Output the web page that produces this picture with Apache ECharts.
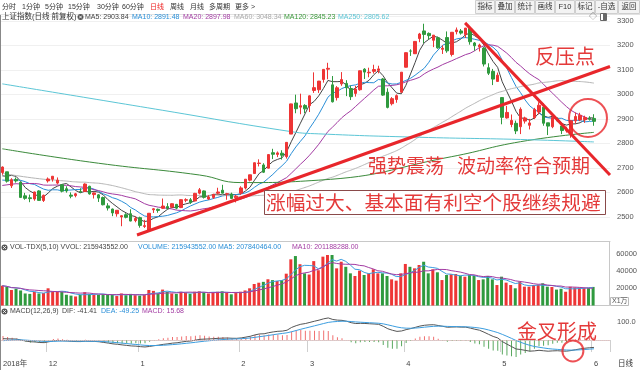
<!DOCTYPE html>
<html><head><meta charset="utf-8">
<script src="https://cdn.jsdelivr.net/npm/echarts@6/dist/echarts.min.js"></script>
<style>html,body{margin:0;padding:0;background:#fff}#c{width:640px;height:370px}</style>
</head><body><div id="c"></div>
<script>
// ---------- data ----------
const monthKeys = ['2018-11','2018-12','2019-01','2019-02','2019-03','2019-04','2019-05','2019-06'];
const monthTickLabels = ['2018年','12','1','2','3','4','5','6'];
const monthDays = [
  [19,20,21,22,23,26,27,28,29,30],
  [3,4,5,6,7,10,11,12,13,14,17,18,19,20,21,24,25,26,27,28],
  [2,3,4,7,8,9,10,11,14,15,16,17,18,21,22,23,24,25,28,29,30,31],
  [1,11,12,13,14,15,18,19,20,21,22,25,26,27,28],
  [1,4,5,6,7,8,11,12,13,14,15,18,19,20,21,22,25,26,27,28,29],
  [1,2,3,4,8,9,10,11,12,15,16,17,18,19,22,23,24,25,26,29,30],
  [6,7,8,9,10,13,14,15,16,17,20,21,22,23,24,27,28,29,30,31],
  [3]
];
const warmupCloses = [2720.73,2750.58,2704.34,2691.59,2702.30,2669.48,2664.80,2656.11,2686.58,2681.64,2651.79,2699.95,2730.85,2729.24,2797.48,2781.14,2806.81,2791.77,2821.35,
  2716.51,2721.01,2725.84,2583.46,2606.91,2568.10,2546.33,2561.61,2486.42,2550.47,2654.88,2594.83,2603.30,2603.80,2598.85,2542.10,2568.05,2602.78,
  2606.24,2676.48,2665.43,2659.36,2641.34,2635.63,2598.87,2630.52,2654.88,2632.24,2668.17,2679.11];
const opens = [2681,2684,2627,2653,2641,2586,2578,2573,2606,2567,
  2647,2654,2638,2631,2615,2589,2587,2604,2604,2625,2591,2590,2579,2545,2532,2513,2500,2509,2513,2485,
  2497,2461,2446,2529,2531,2535,2542,2540,2551,2538,2568,2570,2565,2597,2606,2573,2579,2597,2609,2593,2593,2578,
  2597,2618,2650,2677,2718,2712,2699,2762,2755,2760,2746,2838,2965,2948,2955,
  2954,3016,3019,3061,3103,3039,2987,3043,3045,3024,3004,3019,3103,3088,3094,3098,3063,3009,2962,2979,3009,
  3111,3177,3166,3228,3259,3249,3221,3231,3184,3232,3163,3256,3259,3244,3269,3210,3194,3189,3109,3094,3053,
  2987,2904,2877,2882,2868,2891,2874,2905,2928,2948,2884,2868,2899,2871,2851,2840,2892,2896,2897,2903,
  2902];
const closes = [2703.51,2645.85,2651.51,2646.80,2579.48,2575.81,2574.68,2601.74,2567.44,2588.19,
  2654.80,2665.96,2649.81,2605.18,2605.89,2584.58,2594.09,2602.15,2634.05,2593.74,2597.97,2576.65,2549.56,2536.27,2516.25,2527.01,2504.82,2498.29,2483.09,2493.90,
  2465.29,2464.36,2514.87,2533.09,2526.46,2544.34,2535.10,2553.83,2535.77,2570.35,2570.42,2559.64,2596.01,2610.51,2579.70,2581.00,2591.69,2601.72,2596.98,2594.25,2575.58,2584.57,
  2618.23,2653.90,2671.89,2721.07,2719.70,2682.39,2754.36,2755.65,2761.22,2751.80,2804.23,2961.28,2941.52,2953.82,2940.95,
  2994.01,3027.58,3054.25,3102.10,3106.42,2969.86,3026.99,3060.31,3026.95,2990.69,3021.75,3096.42,3090.98,3090.64,3101.46,3104.15,2997.10,2946.96,2982.67,2994.94,3090.76,
  3170.36,3176.82,3216.30,3246.57,3244.81,3239.66,3241.93,3189.96,3188.63,3177.79,3253.60,3263.12,3250.20,3270.80,3215.04,3198.59,3201.61,3123.83,3086.40,3062.50,3078.34,
  2906.46,2926.39,2893.76,2850.95,2939.21,2903.71,2883.61,2938.68,2955.71,2882.30,2870.60,2905.97,2891.70,2852.52,2852.99,2892.38,2909.91,2914.70,2905.81,2898.70,
  2890.08];
const lows = [2672,2640,2618,2640,2577,2570,2560,2566,2566,2561,
  2640,2644,2633,2600,2599,2576,2580,2598,2603,2591,2575,2561,2547,2526,2503,2501,2462,2494,2482,2478,
  2456,2455,2440.91,2516,2517,2532,2530,2536,2531,2536,2560,2553,2564,2592,2575,2569,2573,2591,2596,2570,2575,2559,
  2590,2612,2645,2676,2706,2679,2698,2736,2744,2734,2738,2838,2923,2919,2923,
  2928,3006,3006,3048,3062,2967,2975,3035,2993,2977,2991,3015,3063,3070,3085,3086,2994,2943,2955,2966,3008,
  3110,3157,3165,3213,3209,3223,3193,3186,3165,3170,3155,3245,3244,3230,3203,3178,3175,3114,3079,3038,3051,
  2878,2901,2866,2838,2838,2881,2857,2899,2918,2872,2834,2862,2887,2838,2844,2823,2880,2891,2884,2893,
  2872];
const highs = [2706,2684,2658,2661,2644,2598,2591,2603,2609,2591,
  2661,2667,2661,2634,2625,2600,2598,2617,2637,2627,2600,2593,2583,2556,2534,2528,2507,2515,2531,2502,
  2501,2488,2515,2536,2534,2575,2556,2556,2553,2572,2576,2577,2598,2618,2608,2589,2594,2619,2631,2598,2599,2590,
  2625,2654,2672,2722,2735,2719,2756,2778,2767,2772,2805,2962,2999,3003,2960,
  2996,3090,3055,3103,3129,3075,3034,3091,3058,3036,3035,3097,3107,3109,3121,3117,3067,3025,2989,3000,3091,
  3171,3184,3216,3251,3288.45,3253,3242,3236,3200,3257,3254,3273,3267,3271,3275,3214,3207,3193,3127,3104,3089,
  2989,2953,2918,2893,2947,2909,2900,2945,2968,2963,2884,2908,2906,2872,2868,2893,2926,2925,2913,2911,
  2919];
// volume in 万手
const volumes = [23000,21500,18000,19500,17500,14000,13500,16000,14000,14500,
  20000,16500,16000,16000,12500,11500,10500,12500,15500,13500,12500,12500,13000,12500,12500,11000,14000,12000,13500,12000,
  11500,12500,18000,17000,14000,18500,16000,14000,13500,16000,15000,13500,16000,16500,15500,14000,15000,16000,16500,15000,13000,14500,
  16000,17500,20000,25000,26500,27500,30500,29500,28500,29500,37000,53700,57500,48000,37400,
  36000,51600,41000,56800,58700,58700,43200,50900,45000,37400,34300,40500,35500,37400,42100,37400,37400,34300,30400,28900,37400,
  48300,45000,43200,47100,50900,37400,42100,38600,29600,35500,36300,36600,34700,33500,35500,34300,29600,30400,34300,30400,23800,
  33500,26600,23800,20000,27700,21900,21900,23800,23800,25800,21900,21500,18500,19468,16000,21800,21000,20800,20300,20226,
  21594];
// long moving averages (index, value)
const ma60HeadIdx = [0];
const ma60HeadVal = [2678];
const ma120Idx = [0,21,43,52,69,98,113,129];
const ma120Val = [2778,2719,2671,2640,2650,2746,2807,2845];
const ma250Idx = [0,35,63,69,91,113,129];
const ma250Val = [3043,2935,2848,2839,2825,2816,2806];
// drawn annotations (x in category units from left edge, y in price / MACD units)
const trendUp = [[29.87,2426],[133,3114]];
const trendDown = [[101.4,3292],[133,2671]];
const circlePrice = [[128.2,2904]];
const circleMacd = [[124.9,-61]];

// ---------- derived ----------
const dates = [];
monthKeys.forEach((m,mi)=>monthDays[mi].forEach(d=>dates.push(m+'-'+String(d).padStart(2,'0'))));
const N = dates.length;
const cats = dates.concat(['','','']);
const labelAt = {};
monthKeys.forEach((m,mi)=>{ const idx = dates.findIndex(d=>d.startsWith(m)); labelAt[idx]=monthTickLabels[mi]; });
const isLabel = (i)=> labelAt[i] !== undefined;

const allCloses = warmupCloses.concat(closes);
const W = warmupCloses.length;
function maClose(n){ return closes.map((_,i)=>{ const e=W+i; if(e-n+1<0) return null; let s=0; for(let k=e-n+1;k<=e;k++) s+=allCloses[k]; return +(s/n).toFixed(2); }); }
const ma5 = maClose(5), ma10 = maClose(10), ma20 = maClose(20);
const ma60 = maClose(60);
ma60HeadIdx.forEach((ix,k)=>{ ma60[ix]=ma60HeadVal[k]; });
function sparse(idx,val){ const a=new Array(N).fill(null); idx.forEach((ix,k)=>a[ix]=val[k]); return a; }
const ma120 = sparse(ma120Idx, ma120Val);
const ma250 = sparse(ma250Idx, ma250Val);
function maVol(n){ return volumes.map((_,i)=>{ const s0=Math.max(0,i-n+1); let s=0; for(let k=s0;k<=i;k++) s+=volumes[k]; return s/(i-s0+1); }); }
const vma5 = maVol(5), vma10 = maVol(10);
function ema(arr,n){ const k=2/(n+1); let e=arr[0]; return arr.map((v,i)=>{ e = i===0? v : e+k*(v-e); return e; }); }
const e12 = ema(allCloses,12), e26 = ema(allCloses,26);
const difAll = e12.map((v,i)=>v-e26[i]);
const deaAll = ema(difAll,9);
const dif = difAll.slice(W), dea = deaAll.slice(W);
const macd = dif.map((v,i)=>2*(v-dea[i]));

const RED='#ee3535', GREEN='#2f9a3e';
const candle = closes.map((c,i)=>[opens[i],c,lows[i],highs[i]]);
const up = closes.map((c,i)=>c>=opens[i]);
const volData = volumes.map((v,i)=>({value:v,itemStyle:{color:up[i]?RED:GREEN}}));
const macdData = macd.map(v=>({value:+v.toFixed(2),itemStyle:{color:v>=0?'#f07070':'#5aa860'}}));
const hiIdx = highs.indexOf(Math.max(...highs));
const loIdx = lows.indexOf(Math.min(...lows));

// ---------- chart ----------
const F = 'Arial, "Liberation Sans", "Noto Sans CJK SC", sans-serif';
const CJK = '"Noto Sans CJK SC", sans-serif';
const chart = echarts.init(document.getElementById('c'), null, {renderer:'canvas'});
const gridBase = {left:0, right:30};
function catAxis(g, extra){ return Object.assign({type:'category', gridIndex:g, data:cats, boundaryGap:true,
  axisLine:{show:true,lineStyle:{color:'#c8c8c8'}}, axisTick:{show:false}, axisLabel:{show:false}, splitLine:{show:false}}, extra||{}); }
function lineS(data,color,x,y,extra){ return Object.assign({type:'line',data,xAxisIndex:x,yAxisIndex:y,symbol:'none',
  lineStyle:{color,width:1},itemStyle:{color},silent:true,z:3}, extra||{}); }

function txt(x,y,text,color,size){ return {type:'text',x,y,silent:true,z:100,
  style:{text,fill:color,font:(size||8)+'px '+F,verticalAlign:'middle',align:'left'}}; }
function icon(cx,cy){ return [
  {type:'circle',shape:{cx,cy,r:3},style:{fill:'#555'},z:100,silent:true},
  {type:'line',shape:{x1:cx-1.4,y1:cy-1.4,x2:cx+1.4,y2:cy+1.4},style:{stroke:'#fff',lineWidth:0.9},z:101,silent:true},
  {type:'line',shape:{x1:cx+1.4,y1:cy-1.4,x2:cx-1.4,y2:cy+1.4},style:{stroke:'#fff',lineWidth:0.9},z:101,silent:true}]; }

const menu = ['分时','1分钟','5分钟','15分钟','30分钟','60分钟','日线','周线','月线','多周期','更多 >'];
const menuX = [2,22,45,68,97,122,150,170,190,209,235];
const btns = ['指标','叠加','统计','画线','F10','标记','-自选','返回'];
const btnX = [475,495,515,535,555,575,595,618,640];

const graphics = [];
menu.forEach((m,i)=>graphics.push(txt(menuX[i],7,m,m==='日线'?'#e22':'#333',7)));
btns.forEach((b,i)=>{
  graphics.push({type:'rect',shape:{x:btnX[i]+0.5,y:0.5,width:btnX[i+1]-btnX[i]-1,height:13},style:{fill:'#f3f3f3',stroke:'#cfcfcf',lineWidth:1},z:99,silent:true});
  graphics.push({type:'text',x:(btnX[i]+btnX[i+1])/2,y:7,z:100,silent:true,style:{text:b,fill:'#333',font:'7.5px '+F,align:'center',verticalAlign:'middle'}});
});
// price header
graphics.push(txt(2,17,'上证指数(日线 前复权)','#333',7.5));
graphics.push(...icon(80.5,17));
graphics.push(txt(85,17,'MA5: 2903.84','#444',7));
graphics.push(txt(132,17,'MA10: 2891.48','#2a8fd8',7));
graphics.push(txt(183,17,'MA20: 2897.98','#a33ca3',7));
graphics.push(txt(234,17,'MA60: 3048.34','#aaaaaa',7));
graphics.push(txt(284,17,'MA120: 2845.23','#3b9a3b',7));
graphics.push(txt(338,17,'MA250: 2805.62','#5cc6d6',7));
graphics.push(txt(589,17,'◇','#666',8));
graphics.push({type:'rect',shape:{x:600.5,y:13.5,width:6,height:7},style:{fill:'#fff',stroke:'#666',lineWidth:1},z:100,silent:true});
graphics.push({type:'rect',shape:{x:603,y:14,width:3.5,height:6},style:{fill:'#666'},z:100,silent:true});
// volume header
graphics.push(...icon(4.5,247.5));
graphics.push(txt(10,247.5,'VOL-TDX(5,10) VVOL: 215943552.00','#444',7));
graphics.push(txt(138,247.5,'VOLUME: 215943552.00','#2a8fd8',7));
graphics.push(txt(218,247.5,'MA5: 207840464.00','#2a8fd8',7));
graphics.push(txt(292,247.5,'MA10: 201188288.00','#a33ca3',7));
// macd header
graphics.push(...icon(4.5,311.5));
graphics.push(txt(10,311.5,'MACD(12,26,9)','#444',7));
graphics.push(txt(62,311.5,'DIF: -41.41','#444',7));
graphics.push(txt(101,311.5,'DEA: -49.25','#2a8fd8',7));
graphics.push(txt(142,311.5,'MACD: 15.68','#a33ca3',7));
// unit box and bottom right
graphics.push({type:'rect',shape:{x:610.5,y:297.5,width:18,height:8},style:{fill:'#fff',stroke:'#bbb',lineWidth:1},z:99,silent:true});
graphics.push(txt(612,301.5,'X1万','#555',7));
graphics.push(txt(618,364,'日线','#333',7.5));
// frame lines
graphics.push({type:'line',shape:{x1:0.5,y1:15,x2:0.5,y2:370},style:{stroke:'#888',lineWidth:1},z:100,silent:true});
graphics.push({type:'line',shape:{x1:0,y1:14.5,x2:640,y2:14.5},style:{stroke:'#e2e2e2',lineWidth:1},z:98,silent:true});
// annotations (texts)
const AR = '#e43a3a';
graphics.push({type:'text',x:535,y:56,z:110,silent:true,style:{text:'反压点',fill:AR,font:'20px '+CJK,verticalAlign:'middle'}});
graphics.push({type:'text',x:368,y:166,z:110,silent:true,style:{text:'强势震荡',fill:AR,font:'19px '+CJK,verticalAlign:'middle'}});
graphics.push({type:'text',x:457,y:166,z:110,silent:true,style:{text:'波动率符合预期',fill:AR,font:'19px '+CJK,verticalAlign:'middle'}});
graphics.push({type:'rect',shape:{x:264.5,y:190.5,width:341,height:24},style:{fill:'#fff',stroke:'#8a4a4a',lineWidth:1},z:105,silent:true});
graphics.push({type:'text',x:266,y:203,z:110,silent:true,style:{text:'涨幅过大、基本面有利空个股继续规避',fill:AR,font:'19.7px '+CJK,verticalAlign:'middle'}});
graphics.push({type:'text',x:517,y:331,z:110,silent:true,style:{text:'金叉形成',fill:AR,font:'20px '+CJK,verticalAlign:'middle'}});

const plain = (v)=>String(Math.round(v));
const option = {
  animation:false,
  backgroundColor:'#fff',
  grid:[
    Object.assign({top:16,height:225.4},gridBase),
    Object.assign({top:241.4,height:64.1},gridBase),
    Object.assign({top:305.5,height:51.5},gridBase)
  ],
  xAxis:[
    catAxis(0), catAxis(1),
    catAxis(2,{
      axisTick:{show:true,interval:(i)=>isLabel(i),length:12,lineStyle:{color:'#cfcfcf'}},
      axisLabel:{show:true,interval:(i)=>isLabel(i),formatter:(v,i)=>labelAt[i]||'',align:'left',margin:3,fontSize:7.5,color:'#444',fontFamily:F}
    }),
    {type:'value',gridIndex:0,min:0,max:133,show:false},
    {type:'value',gridIndex:2,min:0,max:133,show:false}
  ],
  yAxis:[
    {type:'value',gridIndex:0,position:'right',min:2400,max:3320,interval:100,
      axisLine:{show:true,lineStyle:{color:'#c8c8c8'}},axisTick:{show:false},
      axisLabel:{showMinLabel:false,showMaxLabel:false,formatter:plain,fontSize:7.5,color:'#555',margin:7,fontFamily:F},
      splitLine:{show:true,lineStyle:{color:'#f0f0f0',width:1}}},
    {type:'value',gridIndex:1,position:'right',min:0,max:74535,interval:20000,
      axisLine:{show:true,lineStyle:{color:'#c8c8c8'}},axisTick:{show:false},
      axisLabel:{showMinLabel:false,showMaxLabel:false,formatter:plain,fontSize:7.5,color:'#555',margin:7,fontFamily:F},
      splitLine:{show:false}},
    {type:'value',gridIndex:2,position:'right',min:-94.4,max:191.7,
      axisLine:{show:true,lineStyle:{color:'#c8c8c8'}},axisTick:{show:false},
      axisLabel:{customValues:[100],formatter:(v)=>Number(v).toFixed(1),fontSize:7.5,color:'#555',margin:7,fontFamily:F},
      splitLine:{show:false}}
  ],
  series:[
    {type:'candlestick',data:candle,xAxisIndex:0,yAxisIndex:0,barWidth:3,z:4,
      itemStyle:{color:RED,color0:GREEN,borderColor:RED,borderColor0:GREEN,borderWidth:1},
      markPoint:{symbol:'none',silent:true,data:[
        {coord:[hiIdx,highs[hiIdx]],value:highs[hiIdx]+0.01,label:{show:true,position:'right',offset:[2,2],formatter:'\u2310'+(highs[hiIdx]+0.01).toFixed(2),fontSize:7.5,color:'#444',fontFamily:F}},
        {coord:[loIdx,lows[loIdx]],value:lows[loIdx],label:{show:true,position:'right',offset:[3,2],formatter:'\u2323'+lows[loIdx].toFixed(2),fontSize:7.5,color:'#444',fontFamily:F}}
      ]}},
    lineS(ma5,'#444',0,0),
    lineS(ma10,'#2a8fd8',0,0),
    lineS(ma20,'#a33ca3',0,0),
    lineS(ma60,'#b5b5b5',0,0,{connectNulls:true,smooth:true}),
    lineS(ma120,'#3b8a3b',0,0,{connectNulls:true,smooth:true}),
    lineS(ma250,'#5cc6d6',0,0,{connectNulls:true,smooth:true}),
    lineS(trendUp,'#e8262b',3,0,{lineStyle:{color:'#e8262b',width:3},z:20}),
    lineS(trendDown,'#e8262b',3,0,{lineStyle:{color:'#e8262b',width:3},z:20}),
    {type:'scatter',xAxisIndex:3,yAxisIndex:0,data:circlePrice,symbol:'circle',symbolSize:38,silent:true,z:20,
      itemStyle:{color:'rgba(0,0,0,0)',borderColor:'#e8262b',borderWidth:2}},
    {type:'bar',data:volData,xAxisIndex:1,yAxisIndex:1,barWidth:3,z:2},
    lineS(vma5,'#3c9ee0',1,1),
    lineS(vma10,'#a33ca3',1,1),
    {type:'bar',data:macdData,xAxisIndex:2,yAxisIndex:2,barWidth:1,z:2,
      markLine:{symbol:'none',silent:true,label:{show:false},lineStyle:{color:'#f3c8c8',type:'dotted',width:1},data:[{yAxis:0}]}},
    lineS(dif,'#555',2,2),
    lineS(dea,'#3c9ee0',2,2),
    {type:'scatter',xAxisIndex:4,yAxisIndex:2,data:circleMacd,symbol:'circle',symbolSize:21,silent:true,z:20,clip:false,
      itemStyle:{color:'rgba(0,0,0,0)',borderColor:'#e8262b',borderWidth:2}}
  ],
  graphic:graphics
};
chart.setOption(option);
</script>
</body></html>
